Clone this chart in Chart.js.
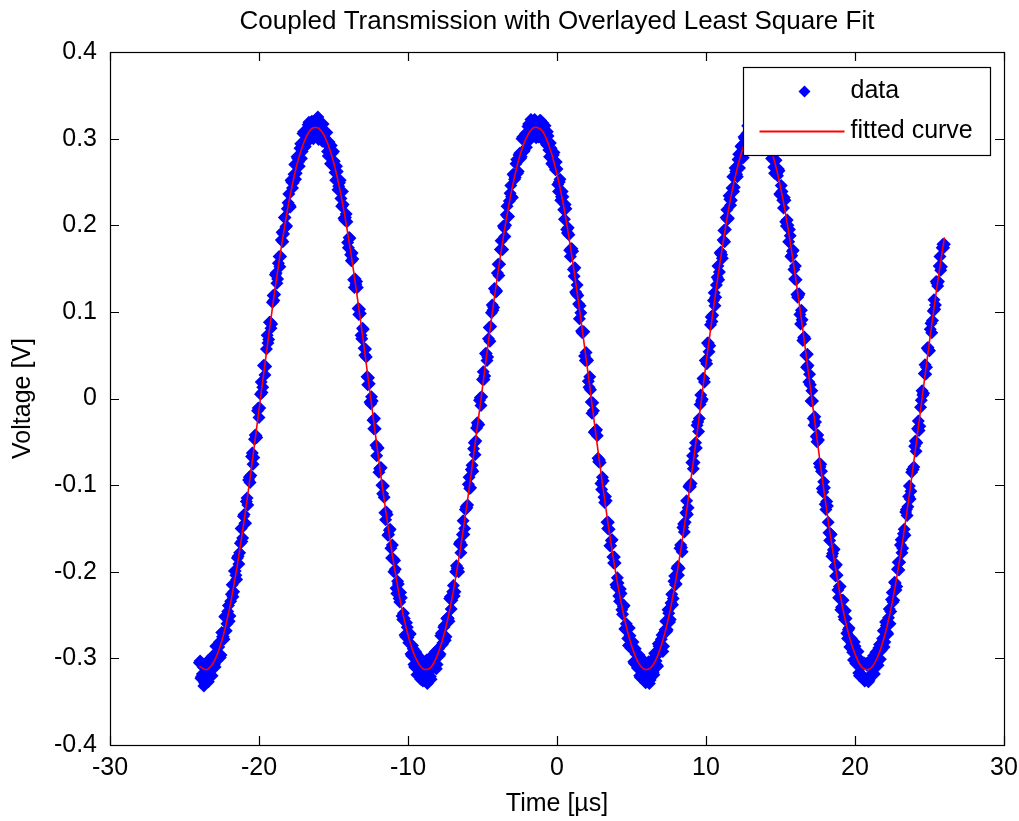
<!DOCTYPE html>
<html>
<head>
<meta charset="utf-8">
<title>Coupled Transmission with Overlayed Least Square Fit</title>
<script src="https://cdn.jsdelivr.net/npm/chart.js@4.4.1/dist/chart.umd.min.js"></script>
<style>
  html, body { margin: 0; padding: 0; background: #fff; }
  #wrap { width: 1019px; height: 821px; }
</style>
</head>
<body>
<div id="wrap"><canvas id="fitChart" width="1019" height="821"></canvas></div>
<script>
// ---- data (time in µs, voltage in mV) ----
// samples on the whole-tenth grid
const sampleTimeUs = [
  -24.0,-23.9,-23.8,-23.7,-23.6,-23.5,-23.4,-23.3,-23.2,-23.1,
  -23.0,-22.9,-22.8,-22.7,-22.6,-22.5,-22.4,-22.3,-22.2,-22.1,
  -22.0,-21.9,-21.8,-21.7,-21.6,-21.5,-21.4,-21.3,-21.2,-21.1,
  -21.0,-20.9,-20.8,-20.7,-20.6,-20.5,-20.4,-20.3,-20.2,-20.1,
  -20.0,-19.9,-19.8,-19.7,-19.6,-19.5,-19.4,-19.3,-19.2,-19.1,
  -19.0,-18.9,-18.8,-18.7,-18.6,-18.5,-18.4,-18.3,-18.2,-18.1,
  -18.0,-17.9,-17.8,-17.7,-17.6,-17.5,-17.4,-17.3,-17.2,-17.1,
  -17.0,-16.9,-16.8,-16.7,-16.6,-16.5,-16.4,-16.3,-16.2,-16.1,
  -16.0,-15.9,-15.8,-15.7,-15.6,-15.5,-15.4,-15.3,-15.2,-15.1,
  -15.0,-14.9,-14.8,-14.7,-14.6,-14.5,-14.4,-14.3,-14.2,-14.1,
  -14.0,-13.9,-13.8,-13.7,-13.6,-13.5,-13.4,-13.3,-13.2,-13.1,
  -13.0,-12.9,-12.8,-12.7,-12.6,-12.5,-12.4,-12.3,-12.2,-12.1,
  -12.0,-11.9,-11.8,-11.7,-11.6,-11.5,-11.4,-11.3,-11.2,-11.1,
  -11.0,-10.9,-10.8,-10.7,-10.6,-10.5,-10.4,-10.3,-10.2,-10.1,
  -10.0,-9.9,-9.8,-9.7,-9.6,-9.5,-9.4,-9.3,-9.2,-9.1,
  -9.0,-8.9,-8.8,-8.7,-8.6,-8.5,-8.4,-8.3,-8.2,-8.1,
  -8.0,-7.9,-7.8,-7.7,-7.6,-7.5,-7.4,-7.3,-7.2,-7.1,
  -7.0,-6.9,-6.8,-6.7,-6.6,-6.5,-6.4,-6.3,-6.2,-6.1,
  -6.0,-5.9,-5.8,-5.7,-5.6,-5.5,-5.4,-5.3,-5.2,-5.1,
  -5.0,-4.9,-4.8,-4.7,-4.6,-4.5,-4.4,-4.3,-4.2,-4.1,
  -4.0,-3.9,-3.8,-3.7,-3.6,-3.5,-3.4,-3.3,-3.2,-3.1,
  -3.0,-2.9,-2.8,-2.7,-2.6,-2.5,-2.4,-2.3,-2.2,-2.1,
  -2.0,-1.9,-1.8,-1.7,-1.6,-1.5,-1.4,-1.3,-1.2,-1.1,
  -1.0,-0.9,-0.8,-0.7,-0.6,-0.5,-0.4,-0.3,-0.2,-0.1,
  0.0,0.1,0.2,0.3,0.4,0.5,0.6,0.7,0.8,0.9,
  1.0,1.1,1.2,1.3,1.4,1.5,1.6,1.7,1.8,1.9,
  2.0,2.1,2.2,2.3,2.4,2.5,2.6,2.7,2.8,2.9,
  3.0,3.1,3.2,3.3,3.4,3.5,3.6,3.7,3.8,3.9,
  4.0,4.1,4.2,4.3,4.4,4.5,4.6,4.7,4.8,4.9,
  5.0,5.1,5.2,5.3,5.4,5.5,5.6,5.7,5.8,5.9,
  6.0,6.1,6.2,6.3,6.4,6.5,6.6,6.7,6.8,6.9,
  7.0,7.1,7.2,7.3,7.4,7.5,7.6,7.7,7.8,7.9,
  8.0,8.1,8.2,8.3,8.4,8.5,8.6,8.7,8.8,8.9,
  9.0,9.1,9.2,9.3,9.4,9.5,9.6,9.7,9.8,9.9,
  10.0,10.1,10.2,10.3,10.4,10.5,10.6,10.7,10.8,10.9,
  11.0,11.1,11.2,11.3,11.4,11.5,11.6,11.7,11.8,11.9,
  12.0,12.1,12.2,12.3,12.4,12.5,12.6,12.7,12.8,12.9,
  13.0,13.1,13.2,13.3,13.4,13.5,13.6,13.7,13.8,13.9,
  14.0,14.1,14.2,14.3,14.4,14.5,14.6,14.7,14.8,14.9,
  15.0,15.1,15.2,15.3,15.4,15.5,15.6,15.7,15.8,15.9,
  16.0,16.1,16.2,16.3,16.4,16.5,16.6,16.7,16.8,16.9,
  17.0,17.1,17.2,17.3,17.4,17.5,17.6,17.7,17.8,17.9,
  18.0,18.1,18.2,18.3,18.4,18.5,18.6,18.7,18.8,18.9,
  19.0,19.1,19.2,19.3,19.4,19.5,19.6,19.7,19.8,19.9,
  20.0,20.1,20.2,20.3,20.4,20.5,20.6,20.7,20.8,20.9,
  21.0,21.1,21.2,21.3,21.4,21.5,21.6,21.7,21.8,21.9,
  22.0,22.1,22.2,22.3,22.4,22.5,22.6,22.7,22.8,22.9,
  23.0,23.1,23.2,23.3,23.4,23.5,23.6,23.7,23.8,23.9,
  24.0,24.1,24.2,24.3,24.4,24.5,24.6,24.7,24.8,24.9,
  25.0,25.1,25.2,25.3,25.4,25.5,25.6,25.7,25.8,25.9,
  26.0
];

const sampleMv = [
  -305,-323,-318,-332,
  // first cycle
  -321,-308,-327,-309,-320,-297,-307,-286,-302,-287,-299,-270,-275,-252,-268,-246,-257,-234,-215,-223,
  -199,-209,-182,-178,-150,-161,-134,-144,-115,-94,-97,-67,-76,-47,-43,-14,-22,5,
  7,38,27,57,64,88,81,111,113,143,133,156,152,183,181,209,198,219,236,221,250,249,270,260,277,268,
  294,285,308,291,304,316,303,319,301,318,310,
  322,299,315,302,317,301,307,285,296,271,283,285,261,268,241,249,231,239,208,209,204,174,185,159,
  161,128,132,128,97,98,69,80,50,48,16,17,-6,
  -3,-35,-35,-66,-57,-81,-80,-110,-114,-140,-134,-157,-151,-184,-185,-187,-219,-211,-231,-224,-251,-248,
  -273,-259,-276,-271,-295,-285,-307,-292,-319,-303,-318,-305,-326,-311,
  // second cycle
  -306,-329,-309,-321,-297,-311,-295,-312,-293,-297,-274,-284,-264,-279,-254,-254,-231,-243,-223,-228,
  -200,-196,-200,-166,-169,-141,-150,-125,-123,-91,-103,-77,-58,-65,-34,-31,-2,-8,
  22,22,52,44,69,66,99,102,127,123,145,142,172,172,199,187,212,210,228,246,232,258,255,276,262,283,
  279,302,286,306,300,317,299,315,305,322,301,
  319,308,321,300,309,315,293,303,279,289,272,284,264,265,239,253,233,233,207,219,191,189,164,173,
  149,151,121,119,92,99,76,77,44,45,20,25,-4,
  -5,-39,-37,-43,-73,-74,-105,-95,-120,-118,-150,-151,-170,-163,-190,-190,-218,-213,-234,-225,-249,-239,
  -266,-265,-285,-274,-288,-281,-306,-295,-311,-296,-322,-308,-322,-307,
  // third cycle
  -324,-309,-329,-303,-315,-319,-298,-308,-283,-293,-278,-292,-270,-257,-267,-248,-255,-226,-231,-205,
  -214,-194,-196,-169,-177,-145,-143,-118,-126,-100,-98,-66,-74,-51,-31,-38,-7,-3,
  23,19,44,64,54,85,89,113,107,131,153,146,169,162,194,195,218,208,230,229,256,244,262,256,282,276,
  292,278,300,292,315,302,317,301,315,307,324,
  305,318,299,318,303,310,288,299,300,277,285,260,275,257,263,235,239,220,229,199,200,195,164,170,
  149,153,120,119,97,102,67,71,50,51,19,16,9,
  -23,-21,-44,-42,-75,-76,-104,-96,-122,-119,-143,-164,-157,-179,-174,-205,-204,-230,-217,-241,-233,-255,
  -254,-277,-265,-287,-283,-302,-286,-304,-292,-320,-305,-320,-305,-325,
  // last partial cycle
  -308,-327,-304,-318,-307,-318,-293,-303,-288,-301,-282,-268,-281,-262,-272,-243,-246,-224,-233,-213,
  -217,-189,-189,-163,-173,-151,-131,-135,-113,-116,-85,-82,-55,-61,-35,-37,-10,9,
  6,39,36,59,55,87,90,114,108,133,135,164,152,178,178
];

// samples half way between the tenths
const midTimeUs = [
  -23.95,-23.85,-23.75,-23.65,-23.55,-23.45,-23.35,-23.25,-23.15,-23.05,
  -22.95,-22.85,-22.75,-22.65,-22.55,-22.45,-22.35,-22.25,-22.15,-22.05,
  -21.95,-21.85,-21.75,-21.65,-21.55,-21.45,-21.35,-21.25,-21.15,-21.05,
  -20.95,-20.85,-20.75,-20.65,-20.55,-20.45,-20.35,-20.25,-20.15,-20.05,
  -19.95,-19.85,-19.75,-19.65,-19.55,-19.45,-19.35,-19.25,-19.15,-19.05,
  -18.95,-18.85,-18.75,-18.65,-18.55,-18.45,-18.35,-18.25,-18.15,-18.05,
  -17.95,-17.85,-17.75,-17.65,-17.55,-17.45,-17.35,-17.25,-17.15,-17.05,
  -16.95,-16.85,-16.75,-16.65,-16.55,-16.45,-16.35,-16.25,-16.15,-16.05,
  -15.95,-15.85,-15.75,-15.65,-15.55,-15.45,-15.35,-15.25,-15.15,-15.05,
  -14.95,-14.85,-14.75,-14.65,-14.55,-14.45,-14.35,-14.25,-14.15,-14.05,
  -13.95,-13.85,-13.75,-13.65,-13.55,-13.45,-13.35,-13.25,-13.15,-13.05,
  -12.95,-12.85,-12.75,-12.65,-12.55,-12.45,-12.35,-12.25,-12.15,-12.05,
  -11.95,-11.85,-11.75,-11.65,-11.55,-11.45,-11.35,-11.25,-11.15,-11.05,
  -10.95,-10.85,-10.75,-10.65,-10.55,-10.45,-10.35,-10.25,-10.15,-10.05,
  -9.95,-9.85,-9.75,-9.65,-9.55,-9.45,-9.35,-9.25,-9.15,-9.05,
  -8.95,-8.85,-8.75,-8.65,-8.55,-8.45,-8.35,-8.25,-8.15,-8.05,
  -7.95,-7.85,-7.75,-7.65,-7.55,-7.45,-7.35,-7.25,-7.15,-7.05,
  -6.95,-6.85,-6.75,-6.65,-6.55,-6.45,-6.35,-6.25,-6.15,-6.05,
  -5.95,-5.85,-5.75,-5.65,-5.55,-5.45,-5.35,-5.25,-5.15,-5.05,
  -4.95,-4.85,-4.75,-4.65,-4.55,-4.45,-4.35,-4.25,-4.15,-4.05,
  -3.95,-3.85,-3.75,-3.65,-3.55,-3.45,-3.35,-3.25,-3.15,-3.05,
  -2.95,-2.85,-2.75,-2.65,-2.55,-2.45,-2.35,-2.25,-2.15,-2.05,
  -1.95,-1.85,-1.75,-1.65,-1.55,-1.45,-1.35,-1.25,-1.15,-1.05,
  -0.95,-0.85,-0.75,-0.65,-0.55,-0.45,-0.35,-0.25,-0.15,-0.05,
  0.05,0.15,0.25,0.35,0.45,0.55,0.65,0.75,0.85,0.95,
  1.05,1.15,1.25,1.35,1.45,1.55,1.65,1.75,1.85,1.95,
  2.05,2.15,2.25,2.35,2.45,2.55,2.65,2.75,2.85,2.95,
  3.05,3.15,3.25,3.35,3.45,3.55,3.65,3.75,3.85,3.95,
  4.05,4.15,4.25,4.35,4.45,4.55,4.65,4.75,4.85,4.95,
  5.05,5.15,5.25,5.35,5.45,5.55,5.65,5.75,5.85,5.95,
  6.05,6.15,6.25,6.35,6.45,6.55,6.65,6.75,6.85,6.95,
  7.05,7.15,7.25,7.35,7.45,7.55,7.65,7.75,7.85,7.95,
  8.05,8.15,8.25,8.35,8.45,8.55,8.65,8.75,8.85,8.95,
  9.05,9.15,9.25,9.35,9.45,9.55,9.65,9.75,9.85,9.95,
  10.05,10.15,10.25,10.35,10.45,10.55,10.65,10.75,10.85,10.95,
  11.05,11.15,11.25,11.35,11.45,11.55,11.65,11.75,11.85,11.95,
  12.05,12.15,12.25,12.35,12.45,12.55,12.65,12.75,12.85,12.95,
  13.05,13.15,13.25,13.35,13.45,13.55,13.65,13.75,13.85,13.95,
  14.05,14.15,14.25,14.35,14.45,14.55,14.65,14.75,14.85,14.95,
  15.05,15.15,15.25,15.35,15.45,15.55,15.65,15.75,15.85,15.95,
  16.05,16.15,16.25,16.35,16.45,16.55,16.65,16.75,16.85,16.95,
  17.05,17.15,17.25,17.35,17.45,17.55,17.65,17.75,17.85,17.95,
  18.05,18.15,18.25,18.35,18.45,18.55,18.65,18.75,18.85,18.95,
  19.05,19.15,19.25,19.35,19.45,19.55,19.65,19.75,19.85,19.95,
  20.05,20.15,20.25,20.35,20.45,20.55,20.65,20.75,20.85,20.95,
  21.05,21.15,21.25,21.35,21.45,21.55,21.65,21.75,21.85,21.95,
  22.05,22.15,22.25,22.35,22.45,22.55,22.65,22.75,22.85,22.95,
  23.05,23.15,23.25,23.35,23.45,23.55,23.65,23.75,23.85,23.95,
  24.05,24.15,24.25,24.35,24.45,24.55,24.65,24.75,24.85,24.95,
  25.05,25.15,25.25,25.35,25.45,25.55,25.65,25.75,25.85,25.95
];

const midMv = [
  -303,-321,-310,-328,
  // first cycle
  -319,-303,-315,-302,-320,-301,-310,-286,-298,-281,-296,-275,-278,-251,-260,-239,-251,-226,-229,-199,
  -204,-184,-191,-167,-165,-136,-144,-119,-123,-91,-89,-63,-68,-42,-45,-11,-11,19,
  13,38,37,73,68,88,86,119,120,145,138,164,164,192,190,209,199,226,223,252,243,259,253,279,273,289,
  277,306,290,303,296,319,306,320,300,317,
  303,325,310,317,297,310,295,307,280,291,292,269,274,252,262,245,252,222,224,206,213,180,186,166,
  168,137,138,135,104,103,73,81,58,57,25,24,-4,
  2,-25,-23,-54,-57,-85,-80,-100,-101,-132,-131,-158,-152,-173,-169,-200,-197,-225,-214,-235,
  -230,-255,-254,-275,-264,-282,-272,-297,-289,-310,-294,-311,-298,-324,-309,-321,-308,
  // second cycle
  -302,-320,-310,-324,-302,-308,-292,-307,-289,-295,-271,-282,-262,-275,-253,-257,-229,-233,-216,-223,
  -193,-196,-168,-178,-157,-157,-128,-126,-99,-104,-82,-84,-51,-49,-28,-30,1,2,
  31,26,52,48,82,83,108,105,126,124,155,155,182,172,197,200,222,210,237,233,259,253,271,260,281,277,
  300,285,302,290,314,305,322,306,320,304,
  317,302,321,305,318,297,304,308,287,295,271,281,267,273,247,250,229,239,218,224,195,197,171,173,
  170,141,123,131,109,107,78,77,49,53,44,13,10,
  -17,-14,-38,-36,-69,-71,-98,-91,-114,-113,-143,-143,-170,-164,-183,-183,-215,-207,-228,-220,
  -244,-240,-266,-260,-277,-265,-288,-286,-304,-289,-305,-296,-320,-305,-319,-303,-328,
  // third cycle
  -317,-304,-325,-305,-316,-294,-303,-309,-286,-292,-273,-286,-267,-269,-244,-258,-236,-238,-211,-215,
  -196,-204,-173,-172,-149,-154,-132,-134,-102,-102,-74,-81,-58,-57,-27,-23,4,-1,
  23,44,40,64,61,94,96,122,117,140,137,168,166,183,181,209,207,234,223,243,239,266,259,276,266,291,
  286,302,285,306,298,318,307,324,305,315,
  307,324,303,313,296,313,297,307,286,290,295,267,275,260,265,236,246,229,232,204,206,181,188,165,
  171,138,137,117,121,86,91,70,69,36,38,28,-3,
  -3,-31,-27,-50,-48,-79,-84,-108,-103,-128,-124,-155,-156,-182,-175,-194,-192,-221,-217,-244,
  -233,-252,-245,-271,-267,-287,-277,-293,-281,-306,-299,-317,-302,-319,-308,-326,-306,
  // last partial cycle
  -305,-325,-308,-319,-297,-310,-299,-308,-284,-291,-277,-287,-258,-270,-253,-260,-232,-235,-212,-221,
  -197,-198,-169,-178,-156,-158,-128,-125,-101,-107,-82,-79,-49,-51,-26,-32,-2,4,
  29,28,58,56,80,76,101,103,135,130,153,148,174,174
];

// least square fit, read every 0.5 µs
const fitTimeUs = [
  -24.0,-23.5,-23.0,-22.5,-22.0,-21.5,-21.0,-20.5,-20.0,-19.5,
  -19.0,-18.5,-18.0,-17.5,-17.0,-16.5,-16.0,-15.5,-15.0,-14.5,
  -14.0,-13.5,-13.0,-12.5,-12.0,-11.5,-11.0,-10.5,-10.0,-9.5,
  -9.0,-8.5,-8.0,-7.5,-7.0,-6.5,-6.0,-5.5,-5.0,-4.5,
  -4.0,-3.5,-3.0,-2.5,-2.0,-1.5,-1.0,-0.5,0.0,0.5,
  1.0,1.5,2.0,2.5,3.0,3.5,4.0,4.5,5.0,5.5,
  6.0,6.5,7.0,7.5,8.0,8.5,9.0,9.5,10.0,10.5,
  11.0,11.5,12.0,12.5,13.0,13.5,14.0,14.5,15.0,15.5,
  16.0,16.5,17.0,17.5,18.0,18.5,19.0,19.5,20.0,20.5,
  21.0,21.5,22.0,22.5,23.0,23.5,24.0,24.5,25.0,25.5,
  26.0
];
const fitMv = [
  -309,-313,-303,-280,-244,-197,-141,-79,-13,53,
  117,175,226,267,295,311,312,299,273,235,
  186,129,66,0,-66,-129,-186,-235,-273,-299,
  -312,-311,-295,-267,-226,-175,-117,-53,13,79,
  141,197,244,280,303,313,309,290,259,217,
  164,104,40,-27,-92,-153,-207,-252,-285,-306,
  -313,-306,-285,-252,-207,-153,-92,-27,40,104,
  164,217,259,290,309,313,303,280,244,197,
  141,79,13,-53,-117,-175,-226,-267,-295,-311,
  -312,-299,-273,-235,-186,-129,-66,0,66,129,
  186
];

const xTicks = [-30, -20, -10, 0, 10, 20, 30];
const yTicks = [-0.4, -0.3, -0.2, -0.1, 0, 0.1, 0.2, 0.3, 0.4];
const chartTitle = 'Coupled Transmission with Overlayed Least Square Fit';

const FONT = "'Liberation Sans', Arial, sans-serif";
Chart.defaults.font.family = FONT;
Chart.defaults.color = '#000';

// title centred over the axes, like matlab does it
const axesTitle = {
  id: 'axesTitle',
  afterDraw(chart) {
    const { ctx, chartArea: a } = chart;
    ctx.save();
    ctx.fillStyle = '#000';
    ctx.font = '26px ' + FONT;
    ctx.textAlign = 'center';
    ctx.textBaseline = 'middle';
    ctx.fillText(chartTitle, (a.left + a.right) / 2, 22);
    ctx.restore();
  }
};

// inward tick marks on all four sides + closed axes box
const boxTicks = {
  id: 'boxTicks',
  afterDraw(chart) {
    const { ctx, chartArea: a, scales: { x, y } } = chart;
    const len = 9;
    ctx.save();
    ctx.strokeStyle = '#000';
    ctx.lineWidth = 1.2;
    ctx.beginPath();
    xTicks.forEach(v => {
      const px = Math.round(x.getPixelForValue(v)) + 0.5;
      ctx.moveTo(px, a.bottom); ctx.lineTo(px, a.bottom - len);
      ctx.moveTo(px, a.top); ctx.lineTo(px, a.top + len);
    });
    yTicks.forEach(v => {
      const py = Math.round(y.getPixelForValue(v)) + 0.5;
      ctx.moveTo(a.left, py); ctx.lineTo(a.left + len, py);
      ctx.moveTo(a.right, py); ctx.lineTo(a.right - len, py);
    });
    ctx.stroke();
    ctx.strokeRect(Math.round(a.left) + 0.5, Math.round(a.top) + 0.5,
      Math.round(a.right - a.left), Math.round(a.bottom - a.top));
    ctx.restore();
  }
};

// boxed legend in the upper right corner of the axes
const boxLegend = {
  id: 'boxLegend',
  afterDraw(chart) {
    const { ctx, chartArea: a } = chart;
    const w = 247, h = 88;
    const x0 = Math.round(a.right - 14 - w) + 0.5, y0 = Math.round(a.top + 15) + 0.5;
    ctx.save();
    ctx.fillStyle = '#fff';
    ctx.fillRect(x0, y0, w, h);
    ctx.strokeStyle = '#000';
    ctx.lineWidth = 1.2;
    ctx.strokeRect(x0, y0, w, h);

    const row1 = y0 + 24, row2 = y0 + 64;
    ctx.fillStyle = '#0000ff';
    ctx.beginPath();
    ctx.moveTo(x0 + 61, row1 - 6); ctx.lineTo(x0 + 67, row1);
    ctx.lineTo(x0 + 61, row1 + 6); ctx.lineTo(x0 + 55, row1);
    ctx.closePath(); ctx.fill();
    ctx.strokeStyle = '#ff0000';
    ctx.lineWidth = 2;
    ctx.beginPath();
    ctx.moveTo(x0 + 16, row2); ctx.lineTo(x0 + 101, row2);
    ctx.stroke();

    ctx.fillStyle = '#000';
    ctx.font = '25px ' + FONT;
    ctx.textBaseline = 'middle';
    ctx.textAlign = 'left';
    ctx.fillText(chart.data.datasets[0].label, x0 + 107, row1);
    ctx.fillText(chart.data.datasets[1].label, x0 + 107, row2);
    ctx.restore();
  }
};

const dataPoints = sampleTimeUs.map((t, i) => ({ x: t, y: sampleMv[i] / 1000 }))
  .concat(midTimeUs.map((t, i) => ({ x: t, y: midMv[i] / 1000 })));

new Chart(document.getElementById('fitChart'), {
  type: 'scatter',
  data: {
    datasets: [
      {
        label: 'data',
        data: dataPoints,
        backgroundColor: '#0000ff', borderColor: '#0000ff',
        pointStyle: 'rectRot', pointRadius: 6.5, borderWidth: 0,
        order: 2,
      },
      {
        label: 'fitted curve',
        type: 'line',
        data: fitTimeUs.map((t, i) => ({ x: t, y: fitMv[i] / 1000 })),
        borderColor: '#ff0000', borderWidth: 1.6,
        pointRadius: 0, tension: 0.35, fill: false,
        order: 1,
      }
    ]
  },
  options: {
    responsive: false, animation: false,
    layout: { padding: { top: 52, right: 15 } },
    plugins: {
      legend: { display: false },
      tooltip: { enabled: false },
      title: { display: false }
    },
    scales: {
      x: {
        type: 'linear', min: -30, max: 30,
        afterBuildTicks: s => { s.ticks = xTicks.map(v => ({ value: v })); },
        afterFit: s => { s.height = 76; s.paddingRight = 0; s.paddingLeft = 0; },
        grid: { display: false, drawTicks: false },
        border: { display: false },
        ticks: { color: '#000', font: { size: 25 }, padding: 8, maxRotation: 0 },
        title: { display: true, text: 'Time [µs]', color: '#000', font: { size: 25 }, padding: { top: 4, bottom: 2 } }
      },
      y: {
        type: 'linear', min: -0.4, max: 0.4,
        afterBuildTicks: s => { s.ticks = yTicks.map(v => ({ value: v })); },
        afterFit: s => { s.width = 110; s.paddingTop = 0; s.paddingBottom = 0; },
        grid: { display: false, drawTicks: false },
        border: { display: false },
        ticks: { color: '#000', font: { size: 25 }, padding: 13 },
        title: { display: true, text: 'Voltage [V]', color: '#000', font: { size: 25 }, padding: { top: 8, bottom: 4 } }
      }
    }
  },
  plugins: [boxTicks, boxLegend, axesTitle]
});
</script>
</body>
</html>
